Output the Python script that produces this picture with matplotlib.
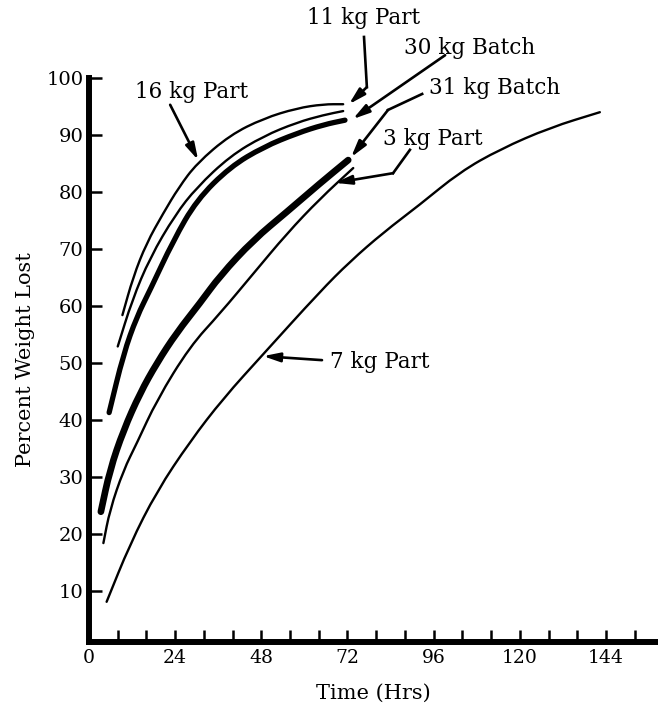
import matplotlib
matplotlib.use("Agg")
import matplotlib.pyplot as plt
from matplotlib.path import Path
from matplotlib.patches import PathPatch

plt.rcParams['font.family'] = ['DejaVu Serif']

# ---- data (hours, percent weight lost) ----
part16_x = [9.3, 12.3, 16.0, 20.7, 25.0, 30.0, 39.3, 48.6, 57.9, 65.3, 70.8]
part16_y = [58.4, 65.1, 71.0, 76.3, 80.8, 85.0, 90.0, 92.9, 94.7, 95.4, 95.4]

part11_x = [8.0, 12.0, 17.0, 24.0, 30.0, 39.3, 48.6, 57.9, 65.3, 70.8]
part11_y = [52.9, 61.0, 68.5, 76.0, 80.8, 86.3, 89.8, 92.2, 93.5, 94.2]

batch30_x = [5.6, 9.6, 13.3, 17.0, 23.5, 30.0, 39.3, 48.6, 57.9, 65.3, 71.3]
batch30_y = [41.3, 51.6, 58.1, 62.8, 71.5, 78.6, 84.4, 87.9, 90.3, 91.8, 92.6]

batch31_x = [3.3, 5.8, 9.6, 14.2, 18.9, 24.4, 30.9, 36.5, 45.8, 55.1, 64.3, 72.2]
batch31_y = [23.9, 31.2, 38.2, 44.7, 50.0, 55.3, 60.5, 65.3, 71.6, 76.5, 81.5, 85.6]

part3_x = [4.0, 5.8, 9.6, 13.3, 18.9, 28.1, 36.5, 45.8, 55.1, 64.3, 73.6]
part3_y = [18.4, 24.2, 31.2, 35.9, 43.5, 52.9, 58.7, 65.7, 72.7, 78.8, 84.2]

part7_x = [4.9, 11.4, 18.9, 28.1, 37.4, 48.6, 64.3, 72.7, 82.0, 92.0, 103.3, 114.5, 128.4, 142.3]
part7_y = [8.1, 18.2, 27.5, 36.2, 43.8, 51.6, 62.5, 67.8, 72.9, 77.7, 83.5, 87.5, 91.3, 94.0]

x_ticks = list(range(0, 160, 8))
x_labels = [str(t) if t % 24 == 0 else '' for t in x_ticks]
y_ticks = list(range(10, 101, 10))
y_labels = [str(t) for t in y_ticks]

fig = plt.figure(figsize=(6.58, 7.13), dpi=100)
ax = fig.add_axes([0.1353, 0.0996, 0.8647, 0.7910])


def smooth_curve(xs, ys, lw):
    """Draw a smooth (quadratic-Bezier) stroke through the read points."""
    pts = list(zip(xs, ys))
    verts = [pts[0]]
    codes = [Path.MOVETO]
    for i in range(1, len(pts) - 1):
        mid = ((pts[i][0] + pts[i + 1][0]) / 2, (pts[i][1] + pts[i + 1][1]) / 2)
        if i == 1:
            verts.append(((pts[0][0] + pts[1][0]) / 2, (pts[0][1] + pts[1][1]) / 2))
            codes.append(Path.LINETO)
        verts += [pts[i], mid]
        codes += [Path.CURVE3, Path.CURVE3]
    verts.append(pts[-1])
    codes.append(Path.LINETO)
    patch = PathPatch(Path(verts, codes), facecolor='none', edgecolor='black',
                      lw=lw, capstyle='round', joinstyle='round')
    ax.add_patch(patch)


thin = 1.7
smooth_curve(part16_x, part16_y, thin)
smooth_curve(part11_x, part11_y, thin)
smooth_curve(batch30_x, batch30_y, 3.8)
smooth_curve(batch31_x, batch31_y, 4.8)
smooth_curve(part3_x, part3_y, thin)
smooth_curve(part7_x, part7_y, thin)

ax.set_xlim(0, 158.5)
ax.set_ylim(1.05, 100)
for s in ['top', 'right']:
    ax.spines[s].set_visible(False)
for s in ['left', 'bottom']:
    ax.spines[s].set_linewidth(4.3)

ax.set_xticks(x_ticks)
ax.set_xticklabels(x_labels, fontsize=13.5)
ax.set_yticks(y_ticks)
ax.set_yticklabels(y_labels, fontsize=14)
ax.tick_params(axis='both', direction='in', length=9, width=1.8, color='black')
ax.tick_params(axis='x', pad=5)
ax.tick_params(axis='y', pad=4)

ax.set_xlabel('Time (Hrs)', fontsize=15, labelpad=12)
ax.set_ylabel('Percent Weight Lost', fontsize=15, labelpad=8)

# ---- annotations ----
afs = 15.5
arrow_kw = dict(arrowstyle='-|>,head_length=0.55,head_width=0.15', lw=1.9,
                color='black', shrinkA=0, shrinkB=0, mutation_scale=18)


def arrow(points):
    xs = [p[0] for p in points]
    ys = [p[1] for p in points]
    if len(points) > 2:
        ax.plot(xs[:-1], ys[:-1], color='black', lw=1.9, clip_on=False,
                solid_joinstyle='miter')
    ax.annotate('', xy=points[-1], xytext=points[-2],
                arrowprops=arrow_kw, annotation_clip=False)


ax.text(28.7, 97.5, '16 kg Part', fontsize=afs, ha='center', va='center', clip_on=False)
arrow([(22.6, 95.3), (30.4, 85.6)])

ax.text(76.6, 110.5, '11 kg Part', fontsize=afs, ha='center', va='center', clip_on=False)
arrow([(76.6, 107.2), (77.4, 98.4), (72.4, 95.4)])

ax.text(106.1, 105.3, '30 kg Batch', fontsize=afs, ha='center', va='center', clip_on=False)
arrow([(99.2, 104.0), (73.5, 92.8)])

ax.text(113.1, 98.2, '31 kg Batch', fontsize=afs, ha='center', va='center', clip_on=False)
arrow([(92.8, 97.2), (83.3, 94.4), (73.0, 86.1)])

ax.text(95.8, 89.3, '3 kg Part', fontsize=afs, ha='center', va='center', clip_on=False)
arrow([(89.4, 87.4), (84.7, 83.3), (68.5, 81.6)])

ax.text(67.1, 50.2, '7 kg Part', fontsize=afs, ha='left', va='center', clip_on=False)
arrow([(64.9, 50.5), (48.5, 51.2)])

fig.savefig('out.png', dpi=100)
